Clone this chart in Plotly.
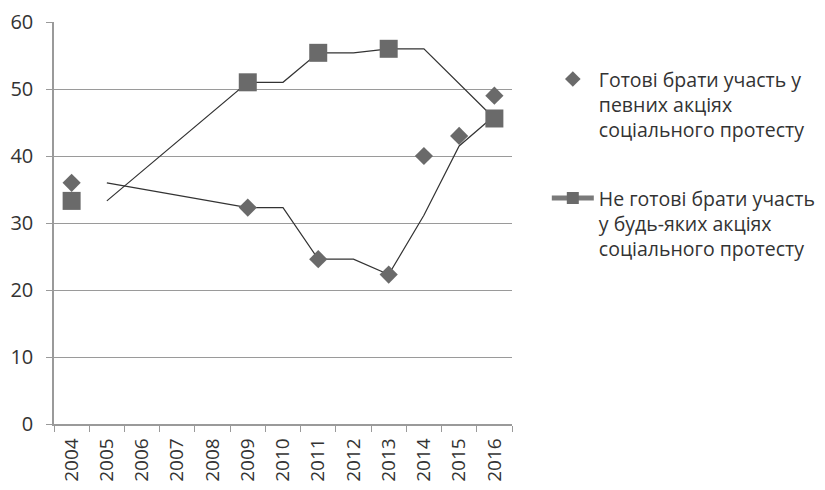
import plotly.graph_objects as go

years = ["2004", "2005", "2006", "2007", "2008", "2009", "2010",
         "2011", "2012", "2013", "2014", "2015", "2016"]
ready = [36, None, None, None, None, 32.3, None, 24.6, None, 22.3, 40, 43, 49]
not_ready = [33.3, None, None, None, None, 51, None, 55.4, None, 56, None, None, 45.6]

name_ready = "Готові брати участь у<br>певних акціях<br>соціального протесту"
name_not = "Не готові брати участь<br>у будь-яких акціях<br>соціального протесту"


def moving_avg2(vals):
    """Excel-style 2-period moving average trendline (blanks ignored)."""
    out = [None]
    for i in range(1, len(vals)):
        w = [v for v in (vals[i - 1], vals[i]) if v is not None]
        out.append(sum(w) / len(w) if w else None)
    return out


MARK = "#6a6a6a"
LINE = "#333333"
GRID = "#9a9a9a"
TXT = "#333333"
FONT = "Open Sans"

fig = go.Figure()

# trendlines
fig.add_trace(go.Scatter(x=years, y=moving_avg2(not_ready), mode="lines",
                         line=dict(color=LINE, width=1.2), connectgaps=True,
                         showlegend=False, hoverinfo="skip"))
fig.add_trace(go.Scatter(x=years, y=moving_avg2(ready), mode="lines",
                         line=dict(color=LINE, width=1.2), connectgaps=True,
                         showlegend=False, hoverinfo="skip"))

# markers
fig.add_trace(go.Scatter(x=years, y=ready, mode="markers", name=name_ready,
                         marker=dict(symbol="diamond", size=14, color=MARK),
                         legendgroup="a"))
fig.add_trace(go.Scatter(x=years, y=not_ready, mode="markers", name=name_not,
                         marker=dict(symbol="square", size=18, color=MARK),
                         showlegend=False))
# legend entry for second series (line + square)
fig.add_trace(go.Scatter(x=[None], y=[None], mode="lines+markers", name=name_not,
                         line=dict(color="#7a7a7a", width=3),
                         marker=dict(symbol="square", size=10, color=MARK),
                         legendgroup="b"))

fig.update_layout(
    width=825, height=490,
    margin=dict(l=46, r=319, t=14, b=74),
    paper_bgcolor="white", plot_bgcolor="white",
    font=dict(family=FONT, size=18, color=TXT),
    legend=dict(x=1.076, y=0.906, xanchor="left", yanchor="top",
                font=dict(family=FONT, size=19.5, color=TXT),
                valign="top", traceorder="grouped", tracegroupgap=40,
                itemsizing="constant", itemwidth=42,
                bgcolor="rgba(0,0,0,0)"),
    xaxis=dict(type="category", categoryorder="array", categoryarray=years,
               range=[-0.5, 12.5], tickson="boundaries", ticks="outside",
               ticklen=6, tickcolor=GRID, showline=True, linecolor=GRID,
               linewidth=1.5, showgrid=False, tickangle=-90, automargin=False,
               ticklabelstandoff=5, ticklabeloverflow="allow",
               tickfont=dict(family=FONT, size=19, color=TXT)),
    yaxis=dict(range=[0, 60], dtick=10, showgrid=True, gridcolor=GRID,
               gridwidth=1.3, ticks="outside", ticklen=6, tickcolor=GRID,
               showline=True, linecolor=GRID, linewidth=1.5, zeroline=False,
               automargin=False, ticklabelstandoff=9,
               ticklabeloverflow="allow",
               tickfont=dict(family=FONT, size=20, color=TXT)),
)

fig.write_html("out.html")
